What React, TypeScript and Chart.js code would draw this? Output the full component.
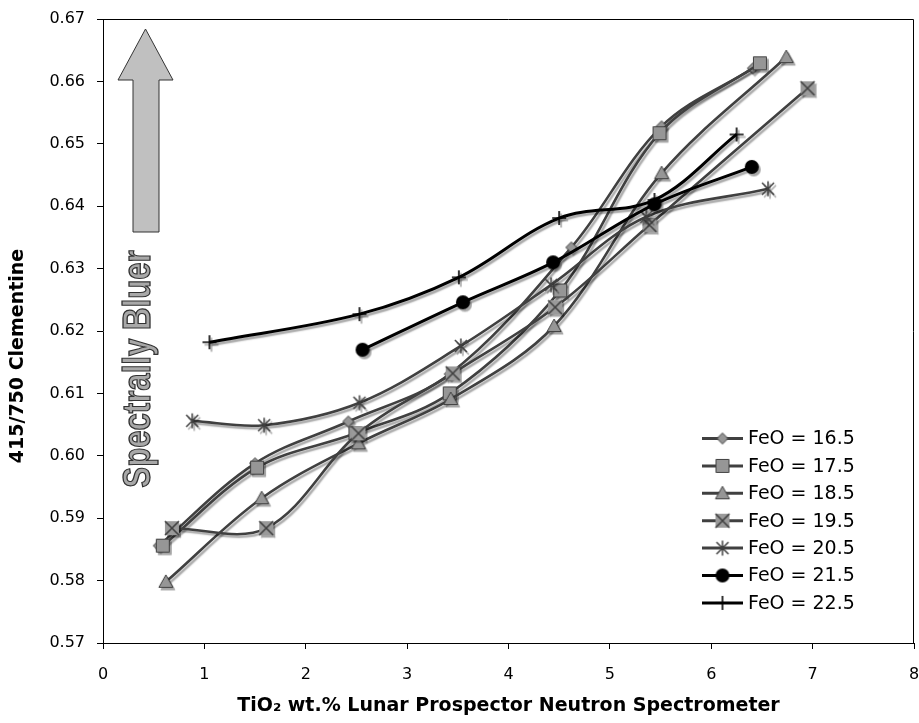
import React, { useEffect, useRef } from 'react';
import { Chart, registerables } from 'chart.js';

Chart.register(...registerables);

// ---- data ----
const xTickValues = [0, 1, 2, 3, 4, 5, 6, 7, 8];
const yTickValues = [0.57, 0.58, 0.59, 0.6, 0.61, 0.62, 0.63, 0.64, 0.65, 0.66, 0.67];

const seriesLabels = ['FeO = 16.5', 'FeO = 17.5', 'FeO = 18.5', 'FeO = 19.5', 'FeO = 20.5', 'FeO = 21.5', 'FeO = 22.5'];

const x165 = [0.55, 1.5, 2.42, 3.42, 4.62, 5.51, 6.41];
const y165 = [0.5856, 0.5988, 0.6055, 0.6131, 0.6334, 0.6528, 0.6621];

const x175 = [0.59, 1.52, 2.49, 3.42, 4.51, 5.49, 6.48];
const y175 = [0.5856, 0.5981, 0.6036, 0.61, 0.6265, 0.6517, 0.6629];

const x185 = [0.62, 1.565, 2.52, 3.43, 4.45, 5.51, 6.74];
const y185 = [0.5798, 0.5932, 0.602, 0.6091, 0.6208, 0.6453, 0.6639];

const x195 = [0.68, 1.61, 2.52, 3.45, 4.46, 5.39, 6.95];
const y195 = [0.5884, 0.5884, 0.6036, 0.6132, 0.6238, 0.637, 0.6589];

const x205 = [0.88, 1.59, 2.53, 3.53, 4.42, 5.36, 6.56];
const y205 = [0.6056, 0.6049, 0.6085, 0.6176, 0.6274, 0.6383, 0.6428];

const x215 = [2.56, 3.55, 4.44, 5.44, 6.4];
const y215 = [0.617, 0.6246, 0.631, 0.6403, 0.6463];

const x225 = [1.05, 2.53, 3.51, 4.5, 5.44, 6.25];
const y225 = [0.6182, 0.6227, 0.6286, 0.6381, 0.641, 0.6515];

const xTitle = 'TiO₂ wt.% Lunar Prospector Neutron Spectrometer';
const yTitle = '415/750 Clementine';
const arrowText = 'Spectrally Bluer';

const markerKinds = ['diamond', 'square', 'triangle', 'xbox', 'star', 'dot', 'plus'];
const lineColors = ['#404040', '#404040', '#404040', '#404040', '#404040', '#000000', '#000000'];

function makeMarker(kind: string): HTMLCanvasElement {
  const s = 20;
  const c = document.createElement('canvas');
  c.width = s;
  c.height = s;
  const g = c.getContext('2d') as CanvasRenderingContext2D;
  const m = s / 2;
  g.lineWidth = 1;
  g.strokeStyle = '#404040';
  g.fillStyle = '#969696';
  g.beginPath();
  switch (kind) {
    case 'diamond':
      g.moveTo(m, m - 5.5);
      g.lineTo(m + 5.5, m);
      g.lineTo(m, m + 5.5);
      g.lineTo(m - 5.5, m);
      g.closePath();
      g.fill();
      g.stroke();
      break;
    case 'square':
      g.rect(m - 6.5, m - 6.5, 13, 13);
      g.fill();
      g.stroke();
      break;
    case 'triangle':
      g.moveTo(m, m - 7);
      g.lineTo(m + 7, m + 5.5);
      g.lineTo(m - 7, m + 5.5);
      g.closePath();
      g.fill();
      g.stroke();
      break;
    case 'xbox':
      g.fillStyle = '#9a9a9a';
      g.fillRect(m - 7, m - 7, 14, 14);
      g.lineWidth = 1.6;
      g.moveTo(m - 7, m - 7);
      g.lineTo(m + 7, m + 7);
      g.moveTo(m + 7, m - 7);
      g.lineTo(m - 7, m + 7);
      g.stroke();
      break;
    case 'star':
      g.lineWidth = 1.5;
      g.moveTo(m - 6, m - 6);
      g.lineTo(m + 6, m + 6);
      g.moveTo(m + 6, m - 6);
      g.lineTo(m - 6, m + 6);
      g.moveTo(m, m - 7.5);
      g.lineTo(m, m + 7.5);
      g.stroke();
      break;
    case 'dot':
      g.fillStyle = '#000';
      g.arc(m, m, 7, 0, Math.PI * 2);
      g.fill();
      break;
    case 'plus':
      g.strokeStyle = '#000';
      g.lineWidth = 1.6;
      g.moveTo(m - 7, m);
      g.lineTo(m + 7, m);
      g.moveTo(m, m - 7);
      g.lineTo(m, m + 7);
      g.stroke();
      break;
  }
  return c;
}

const shadowPlugin = {
  id: 'lineShadow',
  beforeDatasetsDraw(chart: any) {
    const ctx = chart.ctx;
    ctx.save();
    ctx.shadowColor = 'rgba(0,0,0,0.35)';
    ctx.shadowOffsetX = 2;
    ctx.shadowOffsetY = 2.5;
    ctx.shadowBlur = 1.5;
  },
  afterDatasetsDraw(chart: any) {
    chart.ctx.restore();
  },
};

function makeDecorPlugin(markers: HTMLCanvasElement[]) {
  return {
    id: 'decor',
    beforeDatasetsDraw(chart: any) {
      const ctx = chart.ctx as CanvasRenderingContext2D;
      const ca = chart.chartArea;
      const L = ca.left;
      const T = ca.top;
      // block arrow
      ctx.save();
      ctx.beginPath();
      ctx.moveTo(L + 42.5, T + 10);
      ctx.lineTo(L + 70, T + 61);
      ctx.lineTo(L + 56, T + 61);
      ctx.lineTo(L + 56, T + 213);
      ctx.lineTo(L + 30, T + 213);
      ctx.lineTo(L + 30, T + 61);
      ctx.lineTo(L + 15, T + 61);
      ctx.closePath();
      ctx.fillStyle = '#c0c0c0';
      ctx.fill();
      ctx.lineWidth = 1;
      ctx.strokeStyle = '#333';
      ctx.stroke();
      // outlined rotated label
      ctx.translate(L + 47, T + 350);
      ctx.rotate(-Math.PI / 2);
      ctx.scale(0.82, 1);
      ctx.font = 'bold 38px "Liberation Sans", Arial, sans-serif';
      ctx.textAlign = 'center';
      ctx.textBaseline = 'alphabetic';
      ctx.fillStyle = '#a8a8a8';
      ctx.fillText(arrowText, 0, 0);
      ctx.lineWidth = 1.3;
      ctx.strokeStyle = '#333';
      ctx.strokeText(arrowText, 0, 0);
      ctx.restore();
    },
    afterDraw(chart: any) {
      const ctx = chart.ctx as CanvasRenderingContext2D;
      const ca = chart.chartArea;
      ctx.save();
      // frame
      ctx.strokeStyle = '#000';
      ctx.lineWidth = 1;
      ctx.beginPath();
      ctx.moveTo(Math.round(ca.left) + 0.5, Math.round(ca.top) + 0.5);
      ctx.lineTo(Math.round(ca.right) - 0.5, Math.round(ca.top) + 0.5);
      ctx.lineTo(Math.round(ca.right) - 0.5, Math.round(ca.bottom) + 0.5);
      ctx.stroke();
      // y axis title
      ctx.save();
      ctx.translate(18, ca.top + 337);
      ctx.rotate(-Math.PI / 2);
      ctx.font = 'bold 19px "DejaVu Sans", Verdana, sans-serif';
      ctx.textAlign = 'center';
      ctx.textBaseline = 'middle';
      ctx.fillStyle = '#000';
      ctx.fillText(yTitle, 0, 0);
      ctx.restore();
      // legend
      const lx0 = ca.right - 212;
      const lx1 = lx0 + 41;
      const mx = (lx0 + lx1) / 2;
      const tx = lx1 + 5;
      const y0 = ca.top + 419.5;
      const step = 27.4;
      ctx.font = '19px "DejaVu Sans", Verdana, sans-serif';
      ctx.textAlign = 'left';
      ctx.textBaseline = 'middle';
      seriesLabels.forEach((label, i) => {
        const y = y0 + i * step;
        ctx.beginPath();
        ctx.strokeStyle = lineColors[i];
        ctx.lineWidth = 3;
        ctx.moveTo(lx0, y);
        ctx.lineTo(lx1, y);
        ctx.stroke();
        const mk = markers[i];
        ctx.drawImage(mk, mx - mk.width / 2, y - mk.height / 2);
        ctx.fillStyle = '#000';
        ctx.fillText(label, tx, y + 1);
      });
      ctx.restore();
    },
  };
}

export default function App() {
  const ref = useRef<HTMLCanvasElement>(null);

  useEffect(() => {
    const canvas = ref.current;
    if (!canvas) return;
    const markers = markerKinds.map(makeMarker);
    const xs = [x165, x175, x185, x195, x205, x215, x225];
    const ys = [y165, y175, y185, y195, y205, y215, y225];
    const datasets = seriesLabels.map((label, i) => ({
      label,
      data: xs[i].map((x, j) => ({ x, y: ys[i][j] })),
      borderColor: lineColors[i],
      backgroundColor: lineColors[i],
      borderWidth: i >= 5 ? 3 : 2.6,
      pointStyle: markers[i] as any,
      pointRadius: 1,
      pointHoverRadius: 1,
      pointBorderWidth: 0,
      pointHoverBorderWidth: 0,
      tension: 0.35,
      fill: false,
      order: -i,
    }));

    const tickFont = { family: '"DejaVu Sans", Verdana, sans-serif', size: 16 };
    const titleFont = { family: '"DejaVu Sans", Verdana, sans-serif', size: 19, weight: 'bold' as const };

    const chart = new Chart(canvas, {
      type: 'line',
      data: { datasets: datasets as any },
      options: {
        animation: false,
        responsive: false,
        events: [],
        layout: { padding: { top: 19, right: 5, bottom: 0, left: 0 } },
        plugins: { legend: { display: false }, tooltip: { enabled: false } },
        scales: {
          x: {
            type: 'linear',
            min: 0,
            max: 8,
            afterBuildTicks: (s: any) => {
              s.ticks = xTickValues.map((v) => ({ value: v }));
            },
            afterFit: (s: any) => {
              s.height = 80;
              s.paddingLeft = 0;
              s.paddingRight = 0;
            },
            grid: { drawOnChartArea: false, drawTicks: true, tickLength: 6, color: '#000', lineWidth: 1 },
            border: { display: true, color: '#000', width: 1 },
            ticks: { color: '#000', font: tickFont, padding: 16, maxRotation: 0, autoSkip: false },
            title: {
              display: true,
              text: xTitle,
              color: '#000',
              font: titleFont,
              padding: { top: 0, bottom: 6 },
            },
          },
          y: {
            type: 'linear',
            min: 0.57,
            max: 0.67,
            afterBuildTicks: (s: any) => {
              s.ticks = yTickValues.map((v) => ({ value: v }));
            },
            afterFit: (s: any) => {
              s.width = 103;
              s.paddingTop = 0;
              s.paddingBottom = 0;
            },
            grid: { drawOnChartArea: false, drawTicks: true, tickLength: 6, color: '#000', lineWidth: 1 },
            border: { display: true, color: '#000', width: 1 },
            ticks: {
              color: '#000',
              font: tickFont,
              padding: 12,
              callback: (v: any) => Number(v).toFixed(2),
            },
            title: { display: false },
          },
        },
      },
      plugins: [makeDecorPlugin(markers), shadowPlugin],
    });
    return () => chart.destroy();
  }, []);

  return (
    <div style={{ position: 'fixed', left: 0, top: 0, width: 919, height: 723, background: '#fff' }}>
      <canvas ref={ref} width={919} height={723} style={{ display: 'block' }} />
    </div>
  );
}
